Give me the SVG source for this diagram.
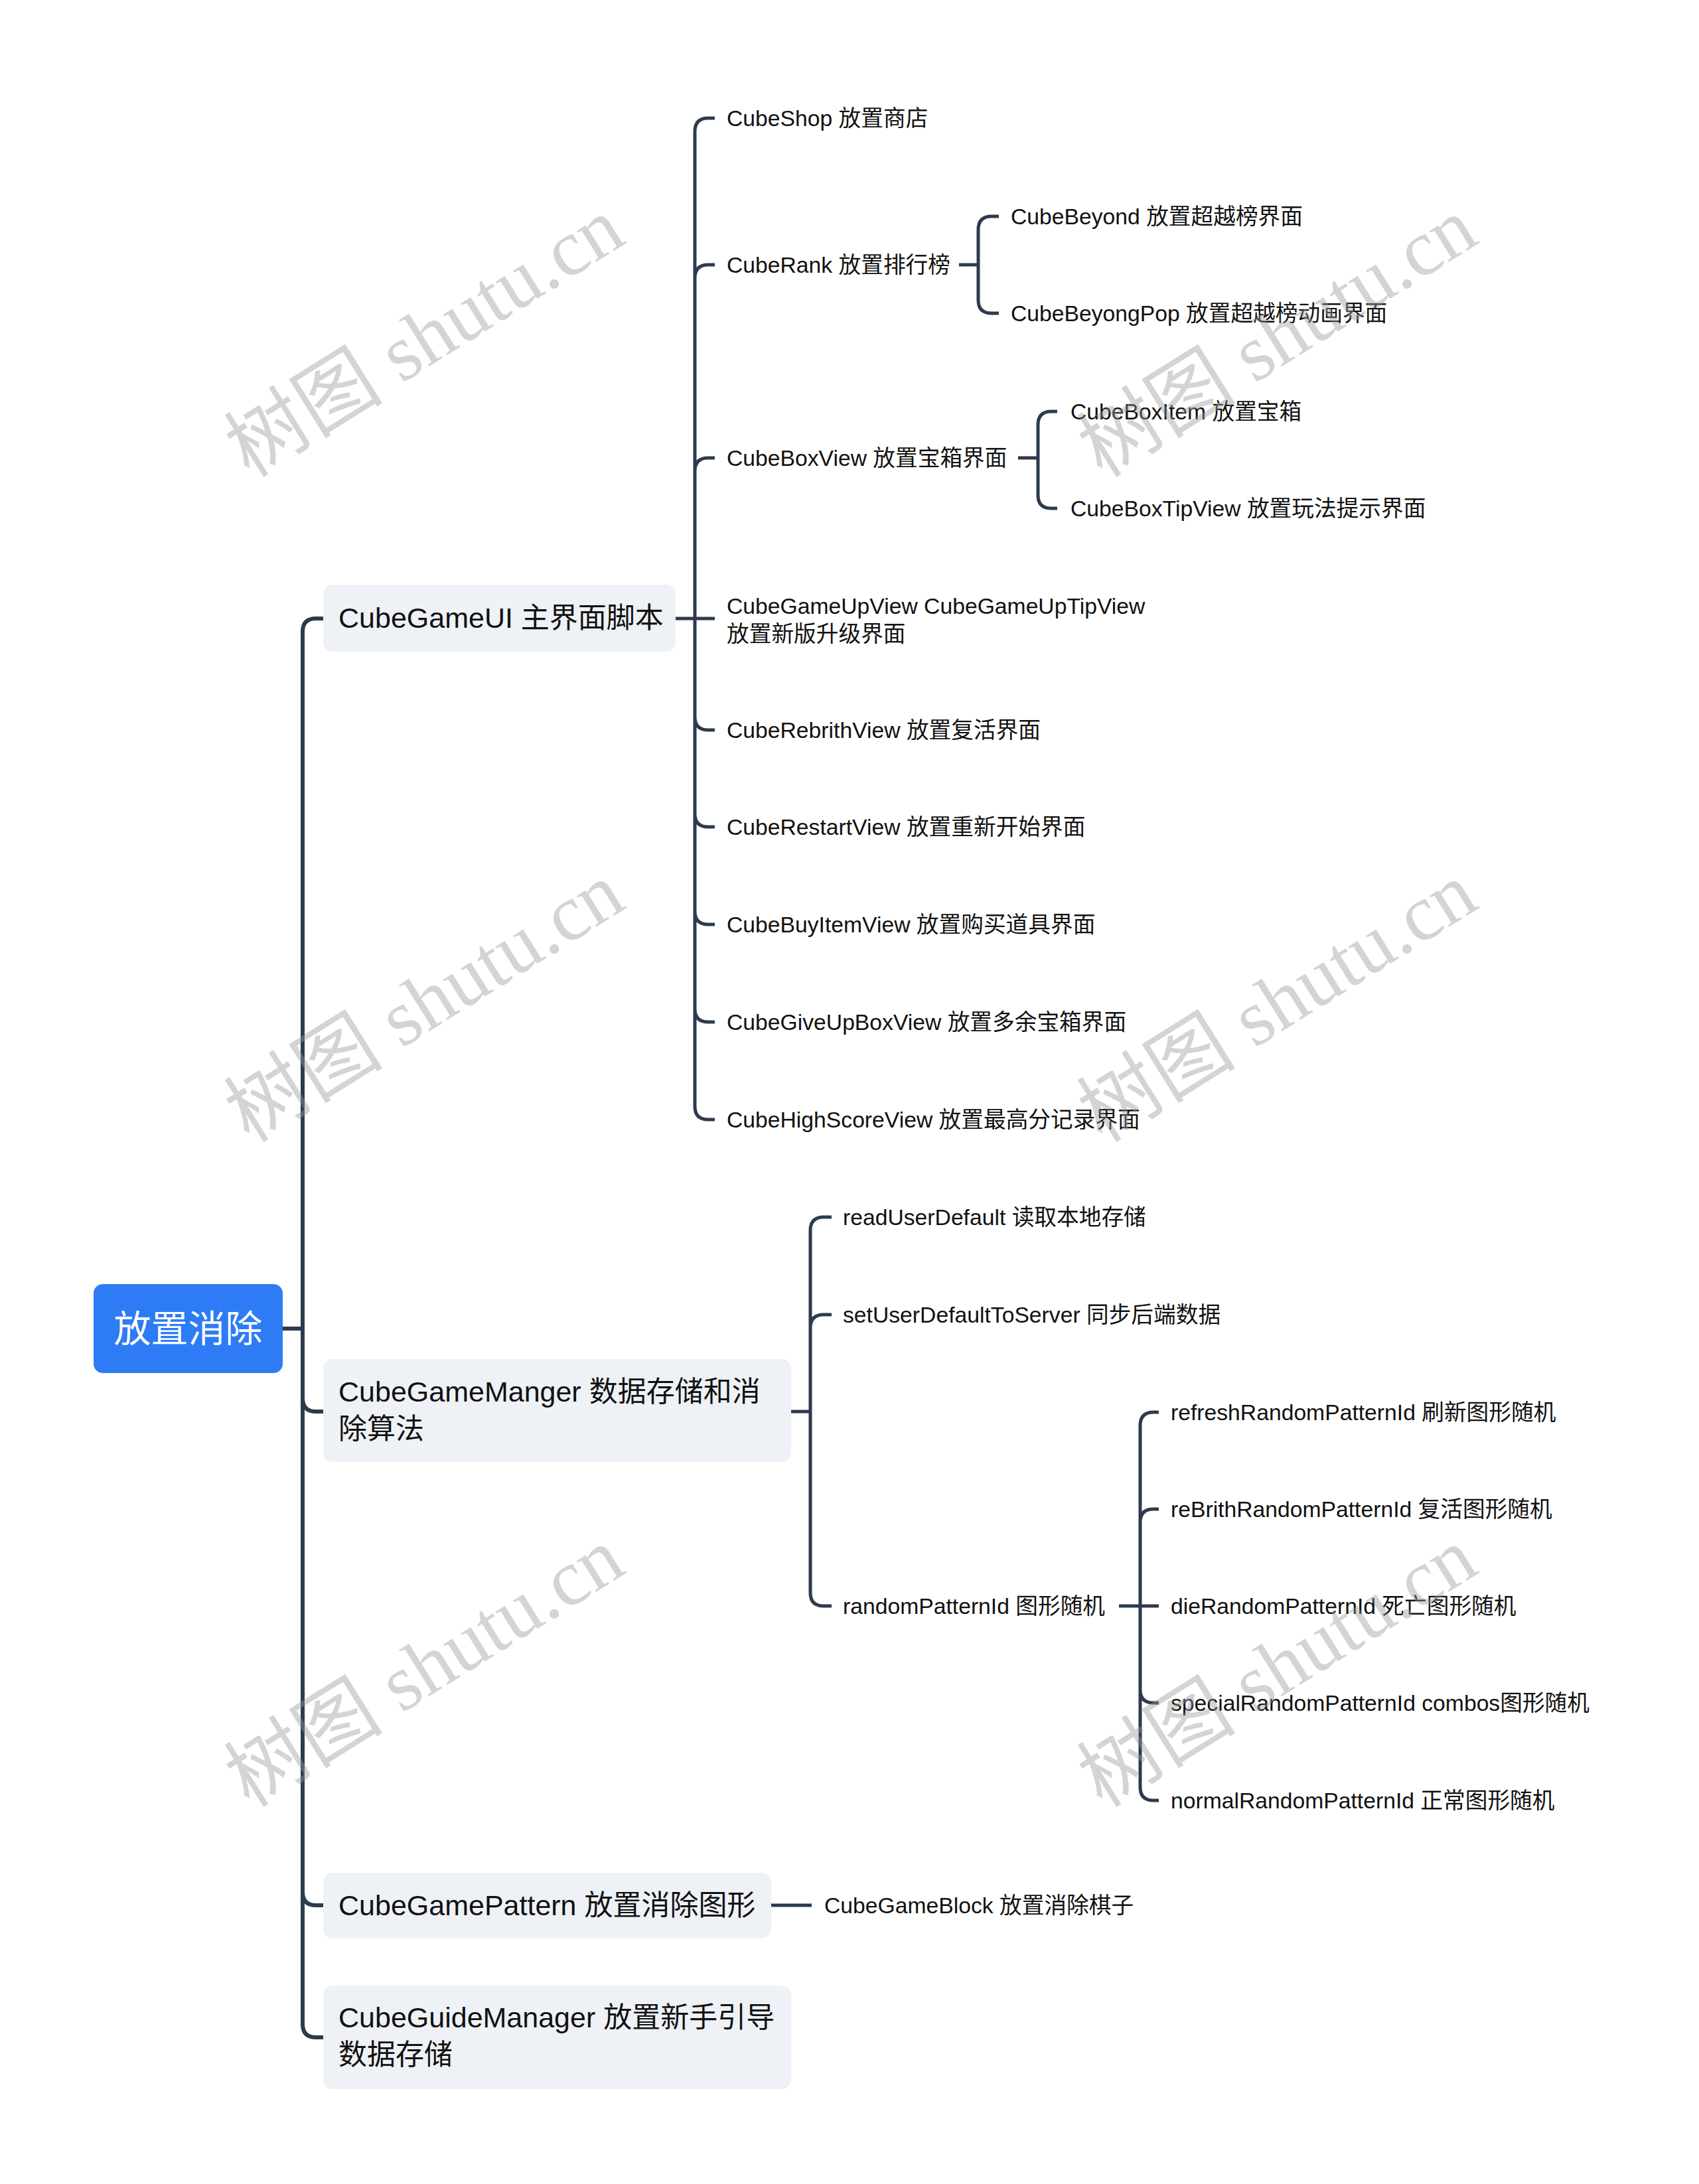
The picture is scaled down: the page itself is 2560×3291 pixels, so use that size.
<svg xmlns="http://www.w3.org/2000/svg" width="2560" height="3291" viewBox="0 0 2560 3291">
<style>
.ln{fill:none;stroke:#2c3b4f;stroke-width:5;stroke-linecap:butt}
.trunk{stroke-width:6}
.box{fill:#eef1f5}
.root{fill:#2d7cf5}
.t1{font-family:"Liberation Sans","Noto Sans CJK SC",sans-serif;font-size:43px;fill:#111}
.t2{font-family:"Liberation Sans","Noto Sans CJK SC",sans-serif;font-size:33.7px;fill:#111}
.tr{font-family:"Liberation Sans","Noto Sans CJK SC",sans-serif;font-size:56px;fill:#fff}
.wm{font-family:"Liberation Serif","Noto Sans CJK SC",serif;font-size:120px;fill:#9a9a9a;opacity:0.42}
</style>
<rect width="2560" height="3291" fill="#fff"/>
<g id="connectors">
<path class="ln trunk" d="M456 952 V3050 M456 952 Q456 932 476 932 H487 M426 2002 H456 M456 2107 Q456 2127 476 2127 H487 M456 2851 Q456 2871 476 2871 H487 M456 3050 Q456 3070 476 3070 H487"/>
<path class="ln" d="M1018 932 H1077 M1047 198 V1667 M1047 198 Q1047 178 1067 178 H1077 M1047 419 Q1047 399 1067 399 H1077 M1047 710 Q1047 690 1067 690 H1077 M1047 1080 Q1047 1100 1067 1100 H1077 M1047 1226 Q1047 1246 1067 1246 H1077 M1047 1373 Q1047 1393 1067 1393 H1077 M1047 1520 Q1047 1540 1067 1540 H1077 M1047 1667 Q1047 1687 1067 1687 H1077"/>
<path class="ln" d="M1445 399 H1474 M1474 346 V452 M1474 346 Q1474 326 1494 326 H1505 M1474 452 Q1474 472 1494 472 H1505"/>
<path class="ln" d="M1534 690 H1564 M1564 640 V746 M1564 640 Q1564 620 1584 620 H1593 M1564 746 Q1564 766 1584 766 H1593"/>
<path class="ln" d="M1192 2127 H1221 M1221 1854 V2400 M1221 1854 Q1221 1834 1241 1834 H1253 M1221 2001 Q1221 1981 1241 1981 H1253 M1221 2400 Q1221 2420 1241 2420 H1253"/>
<path class="ln" d="M1686 2420 H1746 M1718 2148 V2693 M1718 2148 Q1718 2128 1738 2128 H1746 M1718 2294 Q1718 2274 1738 2274 H1746 M1718 2546 Q1718 2566 1738 2566 H1746 M1718 2693 Q1718 2713 1738 2713 H1746"/>
<path class="ln" d="M1162 2871 H1223"/>
</g>
<g id="root"><rect class="root" x="141" y="1935" width="285" height="134" rx="14"/><text class="tr" x="283.5" y="2022" text-anchor="middle">放置消除</text></g>
<g id="n-ui"><rect class="box" x="487" y="881" width="531" height="101" rx="14"/><text class="t1" x="510" y="946">CubeGameUI 主界面脚本</text></g>
<g id="n-manger"><rect class="box" x="487" y="2048" width="705" height="155" rx="14"/><text class="t1" x="510" y="2112">CubeGameManger 数据存储和消</text><text class="t1" x="510" y="2168">除算法</text></g>
<g id="n-pattern"><rect class="box" x="487" y="2822" width="675" height="99" rx="14"/><text class="t1" x="510" y="2886">CubeGamePattern 放置消除图形</text></g>
<g id="n-guide"><rect class="box" x="487" y="2992" width="705" height="156" rx="14"/><text class="t1" x="510" y="3055">CubeGuideManager 放置新手引导</text><text class="t1" x="510" y="3111">数据存储</text></g>
<g id="n-shop"><text class="t2" x="1095" y="190">CubeShop 放置商店</text></g>
<g id="n-rank"><text class="t2" x="1095" y="411">CubeRank 放置排行榜</text></g>
<g id="n-beyond"><text class="t2" x="1523" y="338">CubeBeyond 放置超越榜界面</text></g>
<g id="n-beyongpop"><text class="t2" x="1523" y="484">CubeBeyongPop 放置超越榜动画界面</text></g>
<g id="n-boxview"><text class="t2" x="1095" y="702">CubeBoxView 放置宝箱界面</text></g>
<g id="n-boxitem"><text class="t2" x="1613" y="632">CubeBoxItem 放置宝箱</text></g>
<g id="n-boxtip"><text class="t2" x="1613" y="778">CubeBoxTipView 放置玩法提示界面</text></g>
<g id="n-upview"><text class="t2" x="1095" y="925">CubeGameUpView CubeGameUpTipView</text><text class="t2" x="1095" y="967">放置新版升级界面</text></g>
<g id="n-rebrith"><text class="t2" x="1095" y="1112">CubeRebrithView 放置复活界面</text></g>
<g id="n-restart"><text class="t2" x="1095" y="1258">CubeRestartView 放置重新开始界面</text></g>
<g id="n-buy"><text class="t2" x="1095" y="1405">CubeBuyItemView 放置购买道具界面</text></g>
<g id="n-giveup"><text class="t2" x="1095" y="1552">CubeGiveUpBoxView 放置多余宝箱界面</text></g>
<g id="n-high"><text class="t2" x="1095" y="1699">CubeHighScoreView 放置最高分记录界面</text></g>
<g id="n-read"><text class="t2" x="1270" y="1846">readUserDefault 读取本地存储</text></g>
<g id="n-set"><text class="t2" x="1270" y="1993">setUserDefaultToServer 同步后端数据</text></g>
<g id="n-random"><text class="t2" x="1270" y="2432">randomPatternId 图形随机</text></g>
<g id="n-refresh"><text class="t2" x="1764" y="2140">refreshRandomPatternId 刷新图形随机</text></g>
<g id="n-rebrithp"><text class="t2" x="1764" y="2286">reBrithRandomPatternId 复活图形随机</text></g>
<g id="n-die"><text class="t2" x="1764" y="2432">dieRandomPatternId 死亡图形随机</text></g>
<g id="n-special"><text class="t2" x="1764" y="2578">specialRandomPatternId combos图形随机</text></g>
<g id="n-normal"><text class="t2" x="1764" y="2725">normalRandomPatternId 正常图形随机</text></g>
<g id="n-block"><text class="t2" x="1242" y="2883">CubeGameBlock 放置消除棋子</text></g>
<g id="watermarks">
<text class="wm" text-anchor="middle" transform="translate(640,509) rotate(-32)" y="40">树图 shutu.cn</text>
<text class="wm" text-anchor="middle" transform="translate(1925,509) rotate(-32)" y="40">树图 shutu.cn</text>
<text class="wm" text-anchor="middle" transform="translate(640,1511) rotate(-32)" y="40">树图 shutu.cn</text>
<text class="wm" text-anchor="middle" transform="translate(1925,1511) rotate(-32)" y="40">树图 shutu.cn</text>
<text class="wm" text-anchor="middle" transform="translate(640,2513) rotate(-32)" y="40">树图 shutu.cn</text>
<text class="wm" text-anchor="middle" transform="translate(1925,2513) rotate(-32)" y="40">树图 shutu.cn</text>
</g>
</svg>
